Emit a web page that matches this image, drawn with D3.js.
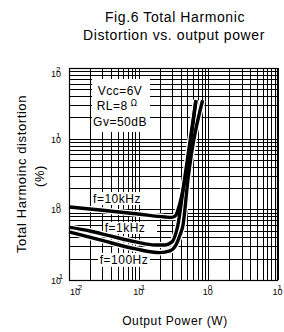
<!DOCTYPE html>
<html>
<head>
	<meta charset="UTF-8">
	<script src="https://d3js.org/d3.v7.min.js"></script>
	<title>THD vs output power</title>
	<style>
		body { margin: 0; background: #fff; }
		text { font-family: "Liberation Sans", Arial, sans-serif; fill: #000; }
	</style>
</head>
<body>
	<svg></svg>
	<script type="text/javascript">
		const width = 284;
		const height = 332;
		const margin = ({top: 68, right: 6, bottom: 52, left: 69});

		// curves: output power (W) / THD (%)
		const p10k = [0.01, 0.028, 0.098, 0.238, 0.301, 0.343, 0.366, 0.392, 0.433, 0.664];
		const thd10k = [1.08, 0.98, 0.86, 0.78, 0.77, 0.83, 0.98, 1.23, 1.88, 35];
		const p1k = [0.01, 0.02, 0.039, 0.091, 0.171, 0.238, 0.301, 0.343, 0.366, 0.405, 0.433, 0.664];
		const thd1k = [0.56, 0.494, 0.421, 0.346, 0.313, 0.313, 0.346, 0.464, 0.60, 1.15, 1.88, 35];
		const p100 = [0.01, 0.028, 0.091, 0.202, 0.281, 0.343, 0.392, 0.433, 0.509, 0.828];
		const thd100 = [0.479, 0.369, 0.275, 0.244, 0.258, 0.313, 0.434, 0.60, 2.61, 35];

		const curveNames = ["f=10kHz", "f=1kHz", "f=100Hz"];
		const curveLabelAt = [[0.0489, 1.23], [0.0636, 0.479], [0.0615, 0.169]];

		const conditions = ["Vcc=6V", "RL=8", "Gv=50dB"];
		const conditionAt = [[0.054, 41.5], [0.054, 25.5], [0.054, 15.1]];

		const xTickExp = ["-2", "-1", "0", "1"];
		const yTickExp = ["-1", "0", "1", "2"];

		const series = [
			p10k.map((p, i) => [p, thd10k[i]]),
			p1k.map((p, i) => [p, thd1k[i]]),
			p100.map((p, i) => [p, thd100[i]])
		];

		const x = d3.scaleLog()
			.domain([0.01, 10])
			.range([margin.left, width - margin.right]);

		const y = d3.scaleLog()
			.domain([0.1, 100])
			.range([height - margin.bottom, margin.top]);

		const svg = d3.select("svg")
			.attr("width", width)
			.attr("height", height)
			.attr("viewBox", [0, 0, width, height]);

		svg.append("text")
			.attr("x", 175).attr("y", 22)
			.attr("text-anchor", "middle")
			.attr("font-size", 14).attr("letter-spacing", 0.6)
			.text("Fig.6 Total Harmonic");
		svg.append("text")
			.attr("x", 174).attr("y", 40)
			.attr("text-anchor", "middle")
			.attr("font-size", 14).attr("letter-spacing", 0.6)
			.text("Distortion vs. output power");

		// grid
		const grid = svg.append("g")
			.attr("stroke", "#000")
			.attr("stroke-width", 1)
			.attr("shape-rendering", "crispEdges");

		grid.selectAll(".vx")
			.data(x.ticks())
			.join("line")
			.attr("x1", d => Math.round(x(d)) + 0.5).attr("x2", d => Math.round(x(d)) + 0.5)
			.attr("y1", y(100)).attr("y2", y(0.1));

		grid.selectAll(".hy")
			.data(y.ticks())
			.join("line")
			.attr("y1", d => Math.round(y(d)) + 0.5).attr("y2", d => Math.round(y(d)) + 0.5)
			.attr("x1", x(0.01)).attr("x2", x(10));

		// conditions box
		const bx0 = x(conditionAt[0][0]) - 28;
		svg.append("rect")
			.attr("x", bx0).attr("y", y(conditionAt[0][1]) - 16)
			.attr("width", 58)
			.attr("height", y(conditionAt[2][1]) - y(conditionAt[0][1]) + 22)
			.attr("fill", "#fff");

		// white boxes behind curve labels
		const labelBox = [[-26, 28, -11, 2], [-22, 32, -10, 2], [-26, 26, -11, 3]];
		svg.selectAll(".lb")
			.data(curveLabelAt)
			.join("rect")
			.attr("x", (d, i) => x(d[0]) + labelBox[i][0])
			.attr("y", (d, i) => y(d[1]) + labelBox[i][2])
			.attr("width", (d, i) => labelBox[i][1] - labelBox[i][0])
			.attr("height", (d, i) => labelBox[i][3] - labelBox[i][2])
			.attr("fill", "#fff");

		const line = d3.line()
			.x(d => x(d[0]))
			.y(d => y(d[1]))
			.curve(d3.curveMonotoneX);

		svg.append("g")
			.selectAll("path")
			.data(series)
			.join("path")
			.attr("d", line)
			.attr("fill", "none")
			.attr("stroke", "#fff")
			.attr("stroke-width", 6);

		svg.append("g")
			.selectAll("path")
			.data(series)
			.join("path")
			.attr("d", line)
			.attr("fill", "none")
			.attr("stroke", "#000")
			.attr("stroke-width", 3.4)
			.attr("stroke-linejoin", "round");

		svg.append("rect")
			.attr("x", x(0.01) + 0.5).attr("y", y(100) + 0.5)
			.attr("width", x(10) - x(0.01) - 1).attr("height", y(0.1) - y(100))
			.attr("fill", "none").attr("stroke", "#000").attr("stroke-width", 1.2);

		svg.selectAll(".cl")
			.data(curveNames)
			.join("text")
			.attr("x", (d, i) => x(curveLabelAt[i][0]))
			.attr("y", (d, i) => y(curveLabelAt[i][1]))
			.attr("text-anchor", "middle")
			.attr("font-size", 12).attr("letter-spacing", 0.5)
			.text(d => d);

		const cond = svg.selectAll(".cd")
			.data(conditions)
			.join("text")
			.attr("x", (d, i) => x(conditionAt[i][0]) + (i === 1 ? -3 : 0))
			.attr("y", (d, i) => y(conditionAt[i][1]))
			.attr("text-anchor", "middle")
			.attr("font-size", 12).attr("letter-spacing", 0.5)
			.text(d => d);
		cond.filter((d, i) => i === 1)
			.append("tspan")
			.attr("dx", 3).attr("dy", -4)
			.attr("font-size", 8)
			.style("font-family", "'DejaVu Sans', sans-serif")
			.text("Ω");

		// tick labels: "10" with exponent drawn over the 0
		const decades = s => s.ticks().filter(d => Math.abs(Math.log10(d) % 1) < 1e-9);

		svg.append("g")
			.selectAll("text")
			.data(decades(x))
			.join("text")
			.attr("x", (d, i) => x(d) + (i === 0 ? 1 : -5.5))
			.attr("y", y(0.1) + 15)
			.attr("font-size", 9)
			.text("10")
			.append("tspan")
			.attr("dx", -5).attr("dy", -5)
			.attr("font-size", 8)
			.text((d, i) => xTickExp[i]);

		svg.append("g")
			.selectAll("text")
			.data(decades(y))
			.join("text")
			.attr("x", x(0.01) - 18)
			.attr("y", (d, i) => y(d) + (i === 3 ? 9 : 4))
			.attr("font-size", 9)
			.text("10")
			.append("tspan")
			.attr("dx", -5).attr("dy", -5)
			.attr("font-size", 8)
			.text((d, i) => yTickExp[i]);

		svg.append("text")
			.attr("transform", `translate(26,${(y(100) + y(0.1)) / 2}) rotate(-90)`)
			.attr("text-anchor", "middle")
			.attr("font-size", 13).attr("letter-spacing", 0.6)
			.text("Total Harmoinc distortion");
		svg.append("text")
			.attr("transform", `translate(44,${(y(100) + y(0.1)) / 2 + 2}) rotate(-90)`)
			.attr("text-anchor", "middle")
			.attr("font-size", 13).attr("letter-spacing", 0.6)
			.text("(%)");

		svg.append("text")
			.attr("x", 175).attr("y", 325)
			.attr("text-anchor", "middle")
			.attr("font-size", 12).attr("letter-spacing", 0.6)
			.text("Output Power (W)");
	</script>
</body>
</html>
